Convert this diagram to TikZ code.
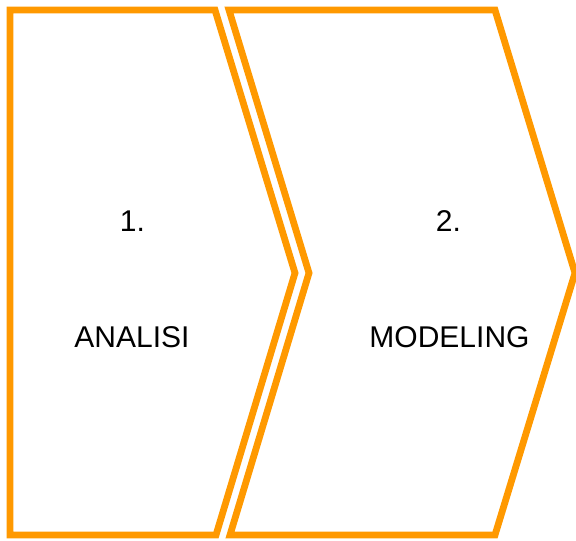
\documentclass[tikz,border=0pt]{standalone}
\usepackage{fontspec}
\setmainfont{Liberation Sans}
\definecolor{chevorange}{RGB}{255,153,0}
\begin{document}
\begin{tikzpicture}[x=1pt,y=-1pt,
  chev/.style={draw=chevorange,line width=6.8pt,line join=miter},
  lbl/.style={anchor=base,inner sep=0pt,font=\fontsize{30}{36}\selectfont,text=black}]
\useasboundingbox (0,0) rectangle (576,541);
% first arrow (pentagon)
\draw[chev] (10,10) -- (215,10) -- (295,273) -- (216,535) -- (10,535) -- cycle;
% second arrow (chevron)
\draw[chev] (229,10) -- (495,10) -- (575,273) -- (495,535) -- (230,535) -- (309,273) -- cycle;
\node[lbl] (n1) at (132.5,231) {1.};
\node[lbl] (t1) at (132,347) {ANALISI};
\node[lbl] (n2) at (448.5,231) {2.};
\node[lbl] (t2) at (449.5,347) {MODELING};
\end{tikzpicture}
\end{document}
